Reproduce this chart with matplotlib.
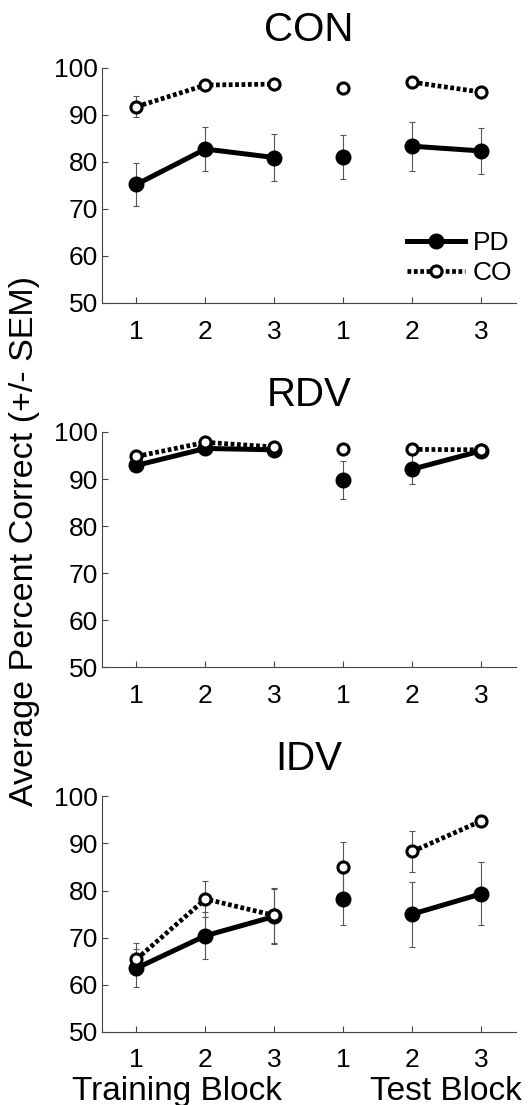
import matplotlib.pyplot as plt

plt.rcParams['font.family'] = ['Liberation Sans', 'DejaVu Sans']

x = [1, 2, 3, 4, 5, 6]
tick_labels = ['1', '2', '3', '1', '2', '3']
segments = [(0, 3), (3, 4), (4, 6)]

con_pd = [75.2, 82.7, 80.9, 81.0, 83.3, 82.3]
con_pd_sem = [4.6, 4.7, 5.0, 4.7, 5.2, 4.9]
con_co = [91.7, 96.3, 96.5, 95.6, 96.9, 94.8]
con_co_sem = [2.2, 1.0, 1.0, 1.0, 1.0, 1.0]

rdv_pd = [92.9, 96.5, 96.2, 89.8, 92.1, 96.0]
rdv_pd_sem = [1.0, 1.0, 1.0, 4.1, 3.1, 1.0]
rdv_co = [94.8, 97.8, 96.8, 96.3, 96.3, 96.2]
rdv_co_sem = [1.0, 1.0, 1.0, 1.0, 1.0, 1.0]

idv_pd = [63.5, 70.4, 74.5, 78.2, 75.0, 79.3]
idv_pd_sem = [4.1, 5.0, 5.8, 5.6, 6.9, 6.7]
idv_co = [65.4, 78.2, 74.7, 85.0, 88.3, 94.8]
idv_co_sem = [3.4, 3.9, 5.8, 5.3, 4.4, 1.0]

panels = [
    ('CON', con_pd, con_pd_sem, con_co, con_co_sem),
    ('RDV', rdv_pd, rdv_pd_sem, rdv_co, rdv_co_sem),
    ('IDV', idv_pd, idv_pd_sem, idv_co, idv_co_sem),
]

fig = plt.figure(figsize=(5.32, 11.05), dpi=100)
bottoms = [0.7258, 0.3961, 0.0663]

pd_style = dict(color='black', lw=3.6, ls='-', marker='o', ms=10,
                mfc='black', mec='black', mew=1.5)
co_style = dict(color='black', lw=3.4, ls=(0, (0.8, 0.55)), marker='o', ms=8,
                mfc='white', mec='black', mew=2.2)

for (name, pd_v, pd_e, co_v, co_e), b in zip(panels, bottoms):
    ax = fig.add_axes([0.1917, b, 0.778, 0.2130])
    ax.errorbar(x, pd_v, yerr=pd_e, fmt='none', ecolor='#555555',
                elinewidth=0.8, capsize=2, capthick=0.8, zorder=1)
    ax.errorbar(x, co_v, yerr=co_e, fmt='none', ecolor='#555555',
                elinewidth=0.8, capsize=2, capthick=0.8, zorder=1)
    for i, (s, e) in enumerate(segments):
        ax.plot(x[s:e], pd_v[s:e], zorder=2, label='PD' if i == 0 else None, **pd_style)
    for i, (s, e) in enumerate(segments):
        ax.plot(x[s:e], co_v[s:e], zorder=3, label='CO' if i == 0 else None, **co_style)

    ax.set_xlim(0.5, 6.5)
    ax.set_ylim(50, 100)
    ax.set_yticks([50, 60, 70, 80, 90, 100])
    ax.set_xticks(x)
    ax.set_xticklabels(tick_labels)
    ax.spines['top'].set_visible(False)
    ax.spines['right'].set_visible(False)
    for sp in ['left', 'bottom']:
        ax.spines[sp].set_color('#444444')
        ax.spines[sp].set_linewidth(0.8)
    ax.tick_params(direction='in', length=4, width=0.8, color='#444444',
                   labelsize=19)
    ax.tick_params(axis='x', pad=12)
    ax.tick_params(axis='y', pad=3)
    ax.set_title(name, fontsize=29, pad=19)

    if name == 'CON':
        ax.legend(loc='lower right', bbox_to_anchor=(1.03, 0.01), frameon=False,
                  fontsize=19, handlelength=2.2, handletextpad=0.3,
                  labelspacing=0.22, borderaxespad=0.2)

fig.text(0.046, 0.51, 'Average Percent Correct (+/- SEM)', rotation=90,
         ha='center', va='center', fontsize=24.5)
fig.text(0.332, 0.0045, 'Training Block', ha='center', va='baseline', fontsize=24)
fig.text(0.838, 0.0045, 'Test Block', ha='center', va='baseline', fontsize=24)

fig.savefig('out.png', dpi=100)
